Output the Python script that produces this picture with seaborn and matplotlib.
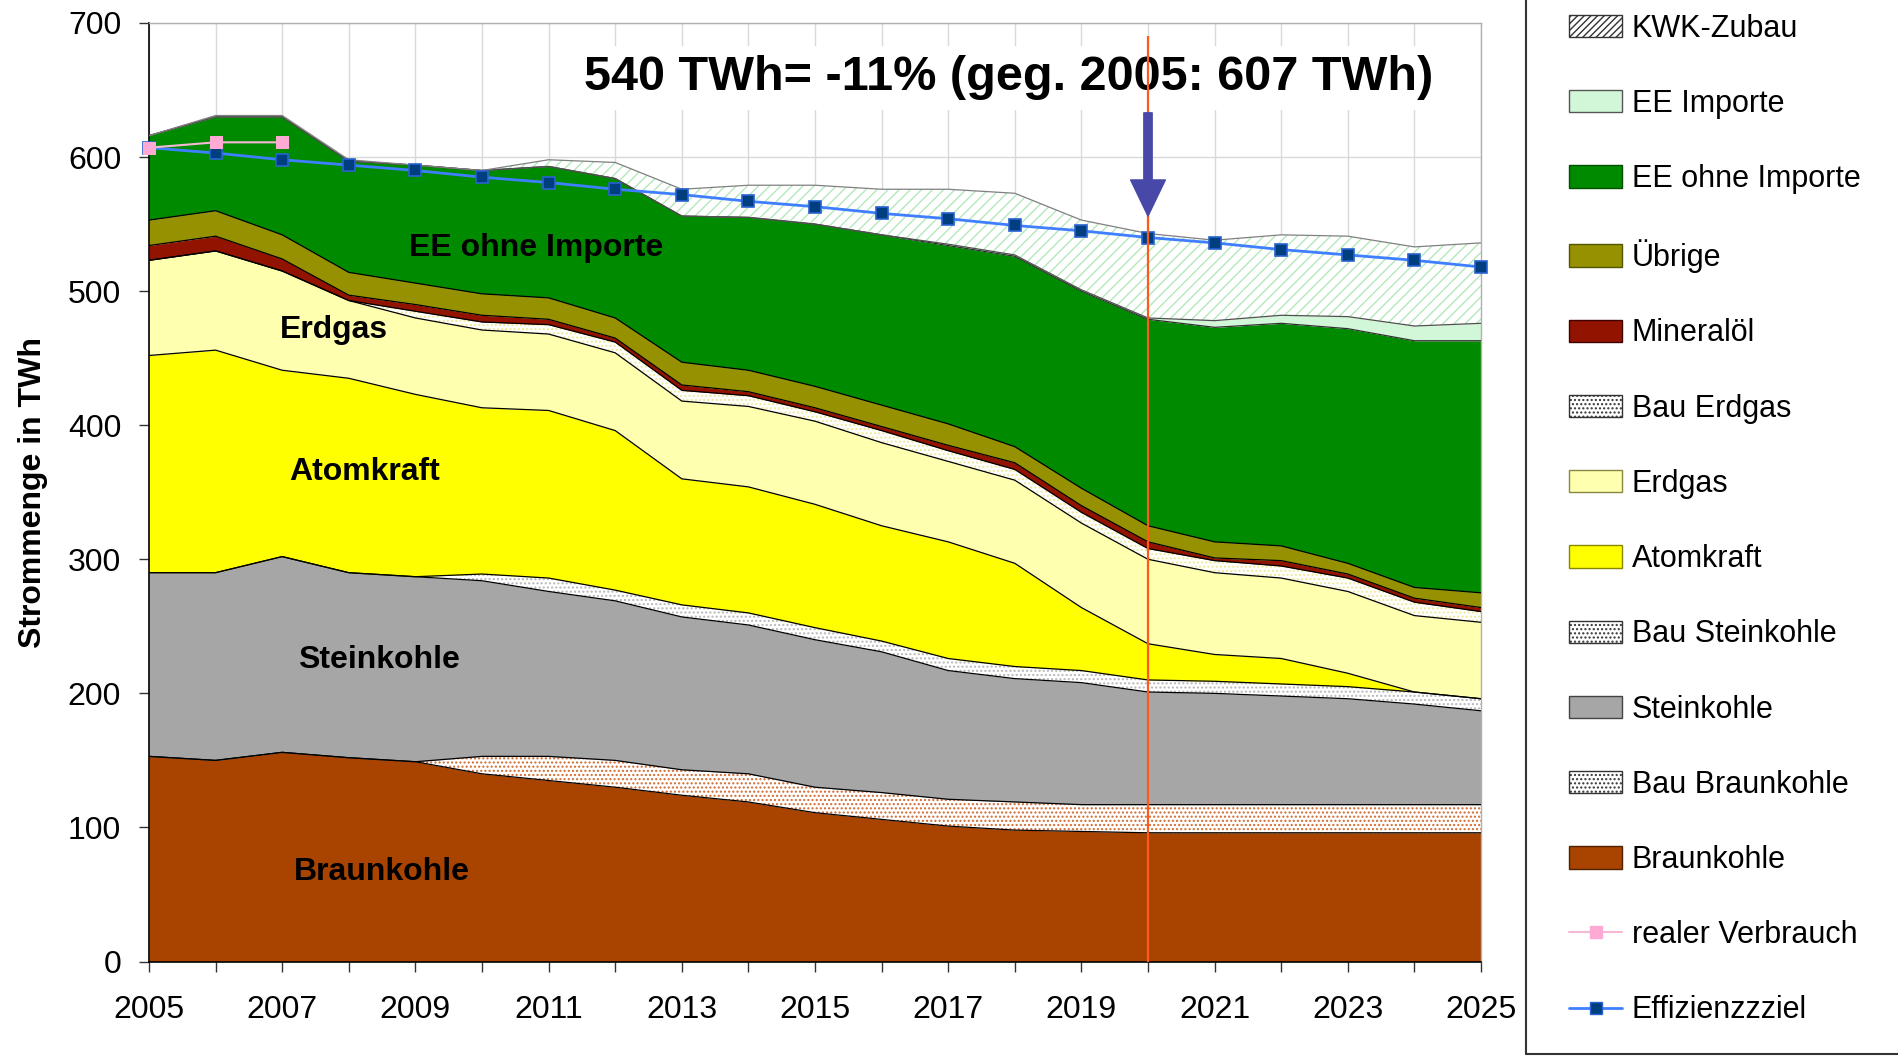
import numpy as np
import seaborn as sns
import matplotlib
matplotlib.use('Agg')
import matplotlib.pyplot as plt
from matplotlib.patches import Patch
from matplotlib.lines import Line2D

years = list(range(2005, 2026))

# TWh per layer, bottom to top
braunkohle = [153, 150, 156, 152, 149, 140, 135, 130, 124, 119, 111, 106, 101, 98, 97, 96, 96, 96, 96, 96, 96]
bau_braunkohle = [0, 0, 0, 0, 0, 13, 18, 20, 19, 21, 19, 20, 20, 21, 20, 21, 21, 21, 21, 21, 21]
steinkohle = [137, 140, 146, 138, 138, 131, 123, 119, 114, 111, 110, 105, 96, 92, 91, 84, 83, 81, 79, 75, 70]
bau_steinkohle = [0, 0, 0, 0, 0, 5, 10, 8, 9, 9, 9, 8, 9, 9, 9, 9, 9, 9, 9, 9, 9]
atomkraft = [162, 166, 139, 145, 136, 124, 125, 119, 94, 94, 92, 86, 87, 77, 47, 27, 20, 19, 10, 0, 0]
erdgas = [71, 74, 74, 58, 57, 58, 57, 58, 58, 60, 62, 62, 60, 62, 63, 63, 61, 60, 61, 57, 57]
bau_erdgas = [0, 0, 0, 0, 5, 6, 7, 8, 8, 8, 7, 9, 8, 8, 8, 8, 9, 9, 10, 10, 8]
mineraloel = [11, 11, 9, 4, 5, 5, 4, 3, 4, 3, 3, 3, 4, 5, 5, 5, 2, 4, 3, 3, 3]
uebrige = [19, 19, 18, 17, 16, 16, 16, 15, 17, 16, 16, 16, 16, 12, 13, 12, 12, 11, 8, 8, 11]
ee_ohne_importe = [63, 70, 88, 83, 88, 92, 98, 104, 109, 114, 121, 127, 133, 142, 147, 154, 160, 166, 175, 184, 188]
ee_importe = [0, 0, 0, 0, 0, 0, 0, 0, 0, 0, 0, 0, 1, 1, 1, 1, 5, 6, 9, 11, 13]
kwk_zubau = [0, 1, 1, 1, 0, 0, 5, 12, 20, 24, 29, 34, 41, 46, 52, 63, 60, 60, 60, 59, 60]

effizienzziel = [607, 603, 598, 594, 590, 585, 581, 576, 572, 567, 563, 558, 554, 549, 545,
                 540, 536, 531, 527, 523, 518]
real_years = [2005, 2006, 2007]
realer_verbrauch = [607, 611, 611]

xtick_labels = [str(y) if (y - 2005) % 2 == 0 else '' for y in years]


def main():
    sns.set_theme(style='white')
    plt.rcParams['font.family'] = ['Liberation Sans', 'DejaVu Sans']
    plt.rcParams['hatch.linewidth'] = 1.0
    plt.rcParams['text.color'] = 'black'
    plt.rcParams['axes.labelcolor'] = 'black'

    W, H = 1899, 1056
    fig = plt.figure(figsize=(W / 100, H / 100), dpi=100)
    ax = fig.add_axes([149 / W, (H - 961.5) / H, (1481 - 149) / W, (961.5 - 23) / H])

    # (values, facecolor, hatch, hatch colour, boundary line colour)
    layers = [
        (braunkohle, '#a84300', None, None, 'black'),
        (bau_braunkohle, 'white', '....', '#d06a30', 'black'),
        (steinkohle, '#a6a6a6', None, None, 'black'),
        (bau_steinkohle, 'white', '....', '#b8b8b8', 'black'),
        (atomkraft, '#ffff00', None, None, 'black'),
        (erdgas, '#ffffb0', None, None, 'black'),
        (bau_erdgas, 'white', '....', '#eeea9a', 'black'),
        (mineraloel, '#921300', None, None, 'black'),
        (uebrige, '#969100', None, None, 'black'),
        (ee_ohne_importe, '#008a00', None, None, '#303030'),
        (ee_importe, '#d2f7d8', None, None, '#505050'),
        (kwk_zubau, 'white', '///', '#b4e8bb', '#808080'),
    ]
    x = np.array(years)
    bottom = np.zeros(len(years))
    for vals, fc, hatch, hc, lc in layers:
        top = bottom + np.array(vals, dtype=float)
        if hatch:
            ax.fill_between(x, bottom, top, facecolor=fc, edgecolor=hc, hatch=hatch,
                            linewidth=0, zorder=2)
        else:
            ax.fill_between(x, bottom, top, facecolor=fc, linewidth=0, zorder=2)
        ax.plot(x, top, color=lc, lw=0.9, zorder=3)
        bottom = top

    sns.lineplot(x=years, y=effizienzziel, ax=ax, color='#3f7fff', lw=2,
                 marker='s', markersize=8, markerfacecolor='#003f7f',
                 markeredgecolor='#2a62d0', markeredgewidth=1.2, zorder=5,
                 clip_on=False, legend=False)
    sns.lineplot(x=real_years, y=realer_verbrauch, ax=ax, color='#f7b8d6', lw=1.5,
                 marker='s', markersize=8, markerfacecolor='#ffaad4',
                 markeredgecolor='#ffaad4', zorder=5.5, clip_on=False, legend=False)

    ax.set_xlim(2005, 2025)
    ax.set_ylim(0, 700)
    ax.set_xticks(years)
    ax.set_xticklabels(xtick_labels)
    ax.set_yticks(range(0, 701, 100))
    ax.tick_params(axis='both', which='both', bottom=True, left=True, direction='out',
                   length=7, width=1, color='#333333', pad=13, labelsize=23,
                   labelcolor='black')
    ax.tick_params(axis='x', pad=17)
    ax.grid(True, color='#d9d9d9', lw=1)
    ax.set_axisbelow(True)
    for s in ['left', 'bottom']:
        ax.spines[s].set_color('black')
        ax.spines[s].set_linewidth(1.2)
    for s in ['top', 'right']:
        ax.spines[s].set_color('#b0b0b0')
        ax.spines[s].set_linewidth(1)
    ax.set_xlabel('')
    ax.set_ylabel('Strommenge in TWh', fontsize=23, fontweight='bold', labelpad=14,
                  color='black')

    ax.text(2017.9, 659, '540 TWh= -11% (geg. 2005: 607 TWh)', ha='center', va='center',
            fontsize=35, fontweight='bold', color='black', zorder=4,
            bbox=dict(facecolor='white', edgecolor='none', pad=7))

    labels = [('EE ohne Importe', 2010.82, 532), ('Erdgas', 2007.78, 471),
              ('Atomkraft', 2008.24, 365), ('Steinkohle', 2008.45, 225),
              ('Braunkohle', 2008.5, 67)]
    for txt, lx, ly in labels:
        ax.text(lx, ly, txt, ha='center', va='center', fontsize=23,
                fontweight='bold', color='black', zorder=4)

    ax.vlines(2020, 0, 690, color='#ff5a1a', lw=1.6, zorder=6)
    ax.annotate('', xy=(2020, 556), xytext=(2020, 633),
                arrowprops=dict(width=6, headwidth=25, headlength=26,
                                facecolor='#4848a8', edgecolor='#4848a8'),
                zorder=7)

    handles = [
        Patch(facecolor='white', edgecolor='#333333', hatch='/////', label='KWK-Zubau'),
        Patch(facecolor='#d2f7d8', edgecolor='#555555', label='EE Importe'),
        Patch(facecolor='#008a00', edgecolor='#005000', label='EE ohne Importe'),
        Patch(facecolor='#969100', edgecolor='#555500', label='Übrige'),
        Patch(facecolor='#921300', edgecolor='#400000', label='Mineralöl'),
        Patch(facecolor='white', edgecolor='#333333', hatch='....', label='Bau Erdgas'),
        Patch(facecolor='#ffffb0', edgecolor='#888840', label='Erdgas'),
        Patch(facecolor='#ffff00', edgecolor='#888800', label='Atomkraft'),
        Patch(facecolor='white', edgecolor='#333333', hatch='....', label='Bau Steinkohle'),
        Patch(facecolor='#a6a6a6', edgecolor='#444444', label='Steinkohle'),
        Patch(facecolor='white', edgecolor='#333333', hatch='....', label='Bau Braunkohle'),
        Patch(facecolor='#a84300', edgecolor='#502000', label='Braunkohle'),
        Line2D([], [], color='#f7b8d6', lw=1.5, marker='s', markersize=8,
               markerfacecolor='#ffaad4', markeredgecolor='#ffaad4', label='realer Verbrauch'),
        Line2D([], [], color='#3f7fff', lw=2, marker='s', markersize=8,
               markerfacecolor='#003f7f', markeredgecolor='#2a62d0', label='Effizienzzziel'),
    ]
    fig.legend(handles=handles, loc='upper left', bbox_to_anchor=(1569 / W, 0.987),
               frameon=False, fontsize=22, handlelength=1.75, handleheight=0.75,
               handletextpad=0.3, labelspacing=1.48, borderpad=0, borderaxespad=0)

    fx = 1526 / W
    fy = 2.5 / H
    fig.add_artist(Line2D([fx, fx], [1, fy], transform=fig.transFigure, color='#333333', lw=1.5))
    fig.add_artist(Line2D([fx, 1], [fy, fy], transform=fig.transFigure, color='#333333', lw=1.5))

    fig.savefig('out.png', dpi=100)


if __name__ == '__main__':
    main()
